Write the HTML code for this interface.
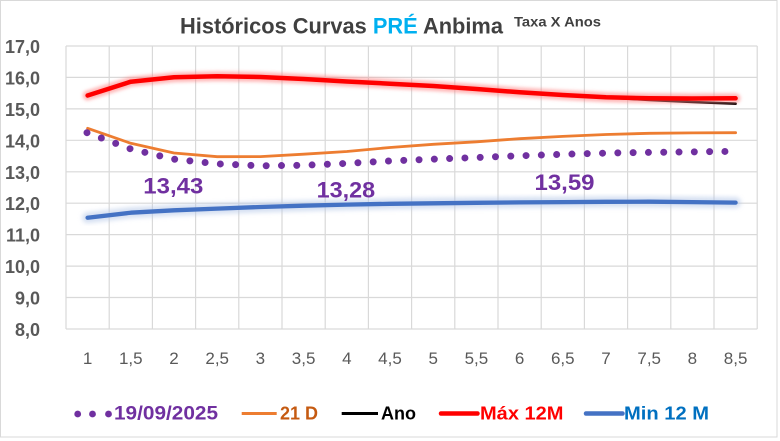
<!DOCTYPE html>
<html><head><meta charset="utf-8"><style>
html,body{margin:0;padding:0;background:#fff;}
svg{display:block;}
text{font-family:"Liberation Sans",sans-serif;}
</style></head><body>
<svg width="780" height="441" viewBox="0 0 780 441" xmlns="http://www.w3.org/2000/svg">
<defs>
<filter id="gr" x="-10%" y="-50%" width="120%" height="200%"><feGaussianBlur stdDeviation="1.6"/></filter>
<filter id="gb" x="-10%" y="-50%" width="120%" height="200%"><feGaussianBlur stdDeviation="2.2"/></filter>
</defs>
<rect x="0" y="0" width="780" height="441" fill="#fff"/>
<rect x="0.5" y="0.5" width="776.5" height="436.5" fill="#fff" stroke="#d9d9d9" stroke-width="1"/>

<!-- grid -->
<g stroke="#d9d9d9" stroke-width="1.2" fill="none">
<line x1="66" y1="46" x2="757.2" y2="46"/>
<line x1="66" y1="77.4" x2="757.2" y2="77.4"/>
<line x1="66" y1="108.9" x2="757.2" y2="108.9"/>
<line x1="66" y1="140.3" x2="757.2" y2="140.3"/>
<line x1="66" y1="171.8" x2="757.2" y2="171.8"/>
<line x1="66" y1="203.2" x2="757.2" y2="203.2"/>
<line x1="66" y1="234.6" x2="757.2" y2="234.6"/>
<line x1="66" y1="266.1" x2="757.2" y2="266.1"/>
<line x1="66" y1="297.5" x2="757.2" y2="297.5"/>
<line x1="66" y1="329" x2="757.2" y2="329"/>
<line x1="66" y1="46" x2="66" y2="329"/>
<line x1="109.2" y1="46" x2="109.2" y2="329"/>
<line x1="152.4" y1="46" x2="152.4" y2="329"/>
<line x1="195.6" y1="46" x2="195.6" y2="329"/>
<line x1="238.8" y1="46" x2="238.8" y2="329"/>
<line x1="282" y1="46" x2="282" y2="329"/>
<line x1="325.2" y1="46" x2="325.2" y2="329"/>
<line x1="368.4" y1="46" x2="368.4" y2="329"/>
<line x1="411.6" y1="46" x2="411.6" y2="329"/>
<line x1="454.8" y1="46" x2="454.8" y2="329"/>
<line x1="498" y1="46" x2="498" y2="329"/>
<line x1="541.2" y1="46" x2="541.2" y2="329"/>
<line x1="584.4" y1="46" x2="584.4" y2="329"/>
<line x1="627.6" y1="46" x2="627.6" y2="329"/>
<line x1="670.8" y1="46" x2="670.8" y2="329"/>
<line x1="714" y1="46" x2="714" y2="329"/>
<line x1="757.2" y1="46" x2="757.2" y2="329"/>
</g>

<!-- title -->
<text x="180" y="33.3" font-size="22" font-weight="bold" fill="#404040" textLength="323" lengthAdjust="spacingAndGlyphs">Históricos Curvas <tspan fill="#00B0F0">PRÉ</tspan> Anbima</text>
<text x="514" y="26.7" font-size="14" font-weight="bold" fill="#404040" textLength="87" lengthAdjust="spacingAndGlyphs">Taxa X Anos</text>

<!-- y labels -->
<g font-size="18" font-weight="bold" fill="#595959" text-anchor="end">
<text x="40" y="53">17,0</text>
<text x="40" y="84.4">16,0</text>
<text x="40" y="115.9">15,0</text>
<text x="40" y="147.3">14,0</text>
<text x="40" y="178.8">13,0</text>
<text x="40" y="210.2">12,0</text>
<text x="40" y="241.6">11,0</text>
<text x="40" y="273.1">10,0</text>
<text x="40" y="304.5">9,0</text>
<text x="40" y="336">8,0</text>
</g>

<!-- x labels -->
<g font-size="17" fill="#595959" text-anchor="middle">
<text x="87.6" y="364">1</text>
<text x="130.8" y="364">1,5</text>
<text x="174" y="364">2</text>
<text x="217.2" y="364">2,5</text>
<text x="260.4" y="364">3</text>
<text x="303.6" y="364">3,5</text>
<text x="346.8" y="364">4</text>
<text x="390" y="364">4,5</text>
<text x="433.2" y="364">5</text>
<text x="476.4" y="364">5,5</text>
<text x="519.6" y="364">6</text>
<text x="562.8" y="364">6,5</text>
<text x="606" y="364">7</text>
<text x="649.2" y="364">7,5</text>
<text x="692.4" y="364">8</text>
<text x="735.6" y="364">8,5</text>
</g>

<!-- Min 12M (blue) -->
<polyline fill="none" stroke="#b4c7e7" stroke-opacity="0.55" stroke-width="11" stroke-linecap="round" stroke-linejoin="round" filter="url(#gb)"
points="87.6,217.7 130.8,212.7 174,210.3 217.2,208.6 260.4,207 303.6,205.7 346.8,204.6 390,203.8 433.2,203.3 476.4,202.8 519.6,202.4 562.8,202.1 606,201.8 649.2,201.7 692.4,202.1 735.6,202.6"/>
<polyline fill="none" stroke="#4472C4" stroke-width="4.3" stroke-linecap="round" stroke-linejoin="round"
points="87.6,217.7 130.8,212.7 174,210.3 217.2,208.6 260.4,207 303.6,205.7 346.8,204.6 390,203.8 433.2,203.3 476.4,202.8 519.6,202.4 562.8,202.1 606,201.8 649.2,201.7 692.4,202.1 735.6,202.6"/>

<!-- 21 D (orange) -->
<polyline fill="none" stroke="#ED7D31" stroke-width="2.8" stroke-linecap="round" stroke-linejoin="round"
points="87.6,128.3 130.8,143.3 174,153 217.2,156.7 260.4,156.6 303.6,154.2 346.8,151.5 390,147.5 433.2,144.3 476.4,141.8 519.6,138.7 562.8,136.4 606,134.5 649.2,133.3 692.4,132.9 735.6,132.7"/>

<!-- Ano (black) -->
<polyline fill="none" stroke="#000" stroke-width="2.6" stroke-linecap="round" stroke-linejoin="round"
points="87.6,95.5 130.8,81.7 174,77.3 217.2,76.2 260.4,77 303.6,79 346.8,81.5 390,83.7 433.2,86 476.4,89 519.6,92.3 562.8,95 606,97.3 649.2,100 692.4,102 735.6,103.7"/>

<!-- Máx 12M (red) -->
<polyline fill="none" stroke="#ff8080" stroke-opacity="0.55" stroke-width="10" stroke-linecap="round" stroke-linejoin="round" filter="url(#gr)"
points="87.6,95.5 130.8,81.7 174,77.3 217.2,76.2 260.4,77 303.6,79 346.8,81.5 390,83.7 433.2,86 476.4,89 519.6,92.3 562.8,95 606,97.3 649.2,98.3 692.4,98.5 735.6,98.3"/>
<polyline fill="none" stroke="#FF0000" stroke-width="4.5" stroke-linecap="round" stroke-linejoin="round"
points="87.6,95.5 130.8,81.7 174,77.3 217.2,76.2 260.4,77 303.6,79 346.8,81.5 390,83.7 433.2,86 476.4,89 519.6,92.3 562.8,95 606,97.3 649.2,98.3 692.4,98.5 735.6,98.3"/>

<!-- 19/09/2025 dotted (purple) -->
<polyline fill="none" stroke="#7030A0" stroke-width="7" stroke-linecap="round" stroke-linejoin="round" stroke-dasharray="0 15.3"
points="87,132.7 130.8,149 174,159.2 217.2,163.8 260.4,165.8 303.6,165.3 346.8,163.4 390,160.9 433.2,159.2 476.4,157.5 519.6,155.8 562.8,154.3 606,153.1 649.2,152.4 692.4,151.9 735.6,151.3"/>

<!-- data labels -->
<g font-size="22" font-weight="bold" fill="#7030A0">
<text x="143.3" y="193.3" textLength="60" lengthAdjust="spacingAndGlyphs">13,43</text>
<text x="316.7" y="197.3" textLength="58.5" lengthAdjust="spacingAndGlyphs">13,28</text>
<text x="534.5" y="189.8" textLength="60" lengthAdjust="spacingAndGlyphs">13,59</text>
</g>

<!-- legend -->
<g fill="#7030A0">
<circle cx="77.7" cy="414" r="3.4"/>
<circle cx="92.5" cy="414" r="3.4"/>
<circle cx="108.5" cy="414" r="3.4"/>
</g>
<text x="114" y="419.5" font-size="19" font-weight="bold" fill="#7030A0" textLength="104" lengthAdjust="spacingAndGlyphs">19/09/2025</text>
<line x1="241.7" y1="413.5" x2="276.7" y2="413.5" stroke="#ED7D31" stroke-width="3"/>
<text x="280" y="419.5" font-size="18" font-weight="bold" fill="#C55A11" textLength="38" lengthAdjust="spacingAndGlyphs">21 D</text>
<line x1="341.7" y1="413.5" x2="378" y2="413.5" stroke="#000" stroke-width="3"/>
<text x="381" y="419.5" font-size="18" font-weight="bold" fill="#000" textLength="35" lengthAdjust="spacingAndGlyphs">Ano</text>
<line x1="441" y1="413.5" x2="477.5" y2="413.5" stroke="#FF0000" stroke-width="4.5" stroke-linecap="round"/>
<text x="480" y="419.5" font-size="18" font-weight="bold" fill="#FF0000" textLength="83.5" lengthAdjust="spacingAndGlyphs">Máx 12M</text>
<line x1="586" y1="413.5" x2="622.5" y2="413.5" stroke="#4472C4" stroke-width="4.5" stroke-linecap="round"/>
<text x="624" y="419.5" font-size="18" font-weight="bold" fill="#0070C0" textLength="85" lengthAdjust="spacingAndGlyphs">Min 12 M</text>
</svg>
</body></html>
